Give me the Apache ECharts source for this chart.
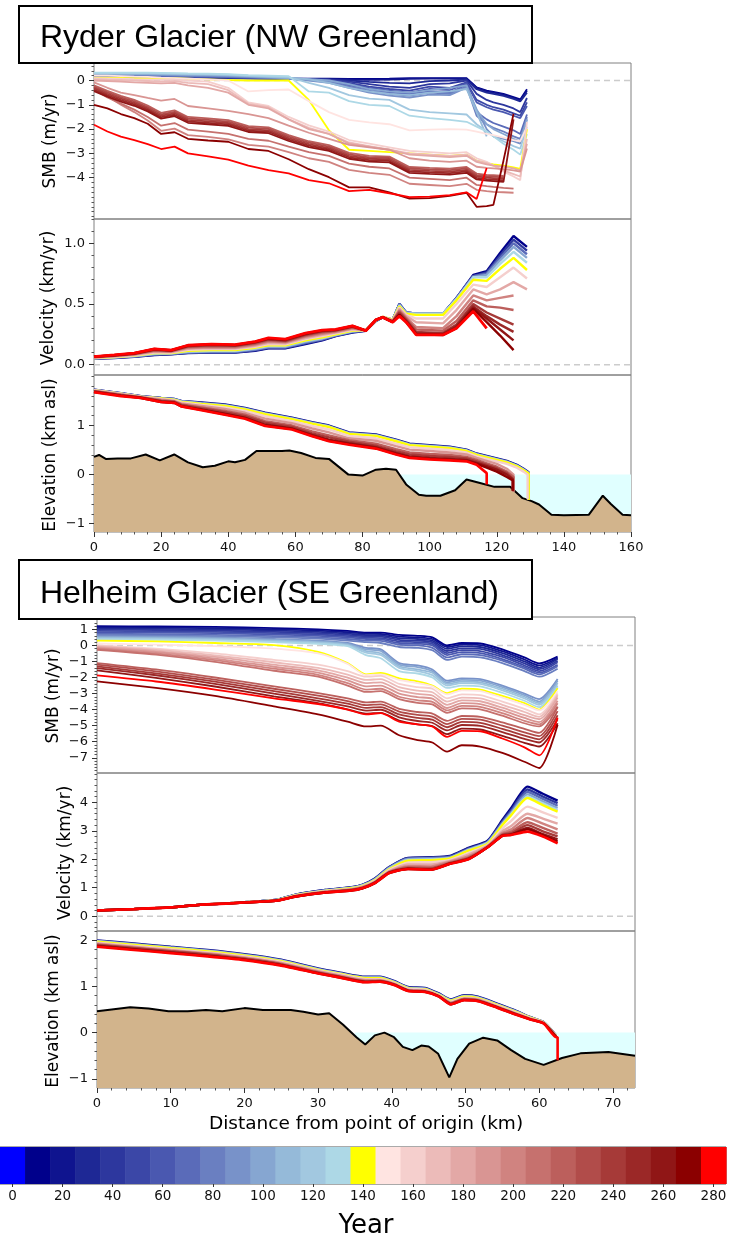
<!DOCTYPE html>
<html><head><meta charset="utf-8">
<script src="https://cdn.jsdelivr.net/npm/echarts@6.0.0/dist/echarts.min.js"></script>
<style>html,body{margin:0;padding:0;background:#fff}#c{width:733px;height:1242px}</style>
</head><body><div id="c"></div>
<script>
// ---------- colour bar ----------
const CB_YEARS = [0,10,20,30,40,50,60,70,80,90,100,110,120,130,140,150,160,170,180,190,200,210,220,230,240,250,260,270,280];
const CB_COLORS = ['#0000ff','#00008b','#0f148f','#1e2895','#2d379e','#3b47a7','#4a58b0','#5a6bb9','#6a7fc1','#7892c9','#86a6d1','#95bad9','#a2c8e0','#add8e6','#ffff00','#ffe4e1','#f5cfcd','#ecbbb9','#e3a8a6','#d99593','#d08380','#c6716e','#bc5f5c','#b14c4a','#a63a38','#9b2827','#901616','#8b0000','#ff0000'];
const CB_TICKS = [0,20,40,60,80,100,120,140,160,180,200,220,240,260,280];

// ---------- Ryder: SMB ----------
const RY_SMB_X = [0,4,8,12,16,20,24,28,34,40,46,52,58,64,70,76,82,88,94,100,106,111,114,117,119,122,125,127,129];
const RY_SMB_YEARS = [10,20,30,40,50,60,70,80,90,100,110,120,130,140,150,160,170,180,190,200,210,220,230,240,250,260,270,280];
const RY_SMB = [
[0.12,0.12,0.12,0.12,0.12,0.12,0.12,0.12,0.11,0.1,0.09,0.08,0.08,0.08,0.08,0.07,0.07,0.08,0.1,0.1,0.1,0.1,-0.28,-0.42,-0.47,-0.55,-0.68,-0.78,-0.36],
[0.13,0.13,0.13,0.13,0.13,0.13,0.13,0.12,0.11,0.1,0.09,0.08,0.07,0.07,0.06,0.04,0.03,0.04,0.07,0.08,0.08,0.08,-0.3,-0.45,-0.5,-0.58,-0.72,-0.82,-0.42],
[0.14,0.14,0.14,0.14,0.14,0.14,0.14,0.13,0.12,0.11,0.1,0.09,0.08,0.07,0.05,0.0,-0.06,-0.1,-0.12,-0.03,0.0,0.04,-0.36,-0.5,-0.55,-0.63,-0.76,-0.86,-0.5],
[0.15,0.15,0.15,0.15,0.15,0.15,0.15,0.14,0.13,0.12,0.1,0.09,0.08,0.06,0.04,-0.05,-0.15,-0.25,-0.3,-0.15,-0.12,0.0,-0.55,-0.8,-0.9,-1.0,-1.15,-1.3,-0.72],
[0.17,0.17,0.17,0.17,0.17,0.17,0.16,0.15,0.14,0.13,0.11,0.1,0.08,0.05,0.02,-0.1,-0.25,-0.35,-0.42,-0.25,-0.3,-0.08,-0.8,-1.0,-1.1,-1.2,-1.35,-1.45,-0.9],
[0.18,0.18,0.18,0.18,0.18,0.18,0.17,0.16,0.15,0.14,0.12,0.1,0.08,0.04,0.0,-0.15,-0.3,-0.42,-0.5,-0.35,-0.4,-0.12,-0.9,-1.1,-1.2,-1.3,-1.45,-1.55,-1.05],
[0.2,0.2,0.2,0.2,0.2,0.2,0.19,0.18,0.17,0.15,0.13,0.11,0.08,0.03,-0.02,-0.2,-0.35,-0.5,-0.55,-0.45,-0.5,-0.18,-1.3,-1.6,-1.75,-1.9,-2.05,-2.2,-1.4],
[0.22,0.22,0.22,0.22,0.22,0.21,0.2,0.19,0.18,0.16,0.14,0.11,0.08,0.02,-0.05,-0.25,-0.42,-0.55,-0.62,-0.5,-0.55,-0.25,-1.45,-1.8,-1.95,-2.1,-2.3,-2.4,-1.5],
[0.24,0.24,0.24,0.24,0.24,0.23,0.22,0.21,0.2,0.18,0.15,0.12,0.08,0.0,-0.1,-0.3,-0.5,-0.62,-0.7,-0.58,-0.6,-0.3,-1.2,-2.0,-2.3,-2.4,-2.5,-2.6,-1.6],
[0.26,0.26,0.26,0.26,0.26,0.25,0.24,0.23,0.22,0.2,0.17,0.14,0.1,0.06,0.0,-0.15,-0.35,-0.45,-0.5,-0.4,-0.3,-0.2,-1.2,-1.8,-2.0,-2.2,-2.4,-2.5,-1.6],
[0.28,0.28,0.28,0.28,0.28,0.27,0.26,0.25,0.24,0.22,0.18,0.15,0.12,0.05,-0.1,-0.3,-0.45,-0.55,-0.6,-0.5,-0.45,-0.35,-1.3,-2.3,null,null,null,null,null],
[0.3,0.3,0.3,0.3,0.3,0.29,0.28,0.27,0.26,0.24,0.2,0.17,0.14,-0.1,-0.3,-0.6,-0.75,-0.8,-1.2,-1.3,-1.35,-1.4,-1.8,-2.1,-2.3,-2.5,-2.7,-2.8,-1.9],
[0.32,0.32,0.32,0.32,0.32,0.31,0.3,0.29,0.28,0.26,0.22,0.2,0.18,-0.45,-0.5,-0.85,-1.0,-1.05,-1.45,-1.55,-1.62,-1.7,-1.9,-2.1,-2.3,-2.6,-2.85,-3.05,-2.2],
[0.12,0.12,0.11,0.1,0.1,0.1,0.1,0.08,0.05,0.02,0.0,0.0,0.0,-0.8,-2.05,-2.85,-2.9,-2.95,-3.0,-3.05,-3.1,-3.05,-3.3,-3.4,-3.45,-3.5,-3.58,-3.64,-2.0],
[0.2,0.2,0.18,0.16,0.15,0.12,0.1,0.08,0.05,0.0,-0.45,-0.4,-0.37,-0.85,-1.3,-1.62,-1.72,-1.8,-2.05,-2.02,-2.0,-2.02,-2.1,-2.2,-2.25,-2.35,-2.45,-2.5,-1.9],
[0.1,0.09,0.08,0.06,0.05,0.03,0.04,0.0,-0.05,-0.3,-0.9,-1.05,-1.5,-1.85,-2.1,-2.45,-2.6,-2.75,-2.9,-2.95,-3.0,-2.95,-3.2,-3.35,-3.5,-3.75,-3.95,-4.1,-1.7],
[0.05,0.03,0.02,0.0,-0.02,-0.05,-0.03,-0.1,-0.15,-0.4,-0.96,-1.1,-1.6,-1.95,-2.2,-2.55,-2.7,-2.85,-3.0,-3.05,-3.1,-3.05,-3.3,-3.4,-3.5,-3.7,-3.85,-3.95,-2.4],
[0.0,-0.02,-0.05,-0.08,-0.1,-0.12,-0.1,-0.2,-0.3,-0.5,-1.0,-1.15,-1.6,-2.0,-2.2,-2.6,-2.72,-2.85,-3.05,-3.1,-3.15,-3.1,-3.35,-3.45,-3.5,-3.55,-3.62,-3.7,-2.6],
[-0.08,-0.3,-0.5,-0.6,-0.72,-0.83,-0.76,-1.05,-1.15,-1.25,-1.38,-1.55,-1.86,-2.15,-2.4,-2.65,-2.75,-2.85,-3.2,-3.3,-3.35,-3.3,-3.55,-3.6,-3.62,-3.65,-3.7,-3.75,-2.8],
[-0.28,-0.65,-1.0,-1.3,-1.65,-2.07,-1.98,-2.25,-2.32,-2.42,-2.65,-2.72,-2.95,-3.2,-3.35,-3.68,-3.8,-3.88,-4.25,-4.3,-4.35,-4.25,-4.5,-4.55,-4.58,-4.6,-4.62,null,null],
[-0.38,-0.7,-0.95,-1.2,-1.5,-1.86,-1.75,-2.02,-2.1,-2.2,-2.4,-2.48,-2.72,-2.95,-3.1,-3.42,-3.55,-3.62,-4.0,-4.05,-4.1,-4.0,-4.3,-4.35,-4.38,-4.42,-4.45,null,null],
[-0.2,-0.43,-0.63,-0.8,-1.03,-1.33,-1.23,-1.5,-1.56,-1.63,-1.88,-1.93,-2.25,-2.5,-2.66,-2.98,-3.1,-3.13,-3.56,-3.6,-3.63,-3.56,-3.83,-3.88,-3.9,-3.93,null,null,null],
[-0.26,-0.49,-0.69,-0.86,-1.09,-1.39,-1.29,-1.56,-1.62,-1.69,-1.94,-1.99,-2.31,-2.56,-2.72,-3.04,-3.16,-3.19,-3.62,-3.66,-3.69,-3.62,-3.89,-3.94,-3.96,-3.99,null,null,null],
[-0.32,-0.55,-0.75,-0.92,-1.15,-1.45,-1.35,-1.62,-1.68,-1.75,-2.0,-2.05,-2.37,-2.62,-2.78,-3.1,-3.22,-3.25,-3.68,-3.72,-3.75,-3.68,-3.95,-4.0,-4.02,-4.05,null,null,null],
[-0.38,-0.61,-0.81,-0.98,-1.21,-1.51,-1.41,-1.68,-1.74,-1.81,-2.06,-2.11,-2.43,-2.68,-2.84,-3.16,-3.28,-3.31,-3.74,-3.78,-3.81,-3.74,-4.01,-4.06,-4.08,-4.11,null,null,null],
[-0.44,-0.67,-0.87,-1.04,-1.27,-1.57,-1.47,-1.74,-1.8,-1.87,-2.12,-2.17,-2.49,-2.74,-2.9,-3.22,-3.34,-3.37,-3.8,-3.84,-3.87,-3.8,-4.07,-4.12,-4.14,-4.17,-1.6,null,null],
[-1.0,-1.15,-1.38,-1.55,-1.78,-2.2,-2.13,-2.4,-2.47,-2.52,-2.82,-2.9,-3.24,-3.65,-3.98,-4.4,-4.4,-4.6,-4.86,-4.84,-4.75,-4.62,-5.2,-5.17,-5.12,-3.3,-1.37,null,null],
[-1.82,-2.1,-2.31,-2.45,-2.62,-2.82,-2.72,-3.0,-3.12,-3.26,-3.5,-3.69,-3.82,-4.1,-4.23,-4.55,-4.5,-4.64,-4.8,-4.78,-4.72,-4.6,-4.88,-3.6,null,null,null,null,null]
];

// ---------- Ryder: velocity ----------
const RY_VEL_X = [0,6,12,18,23,28,35,42,48,52,57,63,68,72,77,81,84,86,89,91,93,96,104,108,113,117,121,125,129];
const RY_VEL_YEARS = [10,40,70,100,130,140,160,180,200,220,240,250,260,270,280];
const RY_VEL = [
[0.05,0.055,0.065,0.08,0.085,0.095,0.1,0.1,0.115,0.135,0.135,0.17,0.2,0.235,0.265,0.28,0.36,0.39,0.37,0.5,0.43,0.42,0.42,0.55,0.74,0.77,0.92,1.06,0.97],
[0.051,0.056,0.066,0.082,0.087,0.097,0.102,0.102,0.118,0.138,0.138,0.175,0.204,0.238,0.268,0.281,0.361,0.39,0.37,0.5,0.43,0.42,0.42,0.55,0.73,0.76,0.9,1.03,0.94],
[0.052,0.058,0.068,0.085,0.09,0.1,0.105,0.105,0.122,0.142,0.142,0.18,0.208,0.24,0.27,0.282,0.362,0.391,0.37,0.5,0.43,0.42,0.42,0.55,0.73,0.75,0.88,1.0,0.91],
[0.053,0.06,0.07,0.088,0.092,0.105,0.11,0.11,0.128,0.148,0.148,0.188,0.214,0.244,0.274,0.283,0.363,0.392,0.37,0.49,0.43,0.42,0.42,0.54,0.72,0.74,0.86,0.97,0.88],
[0.054,0.061,0.073,0.092,0.094,0.11,0.115,0.115,0.134,0.155,0.155,0.196,0.22,0.248,0.277,0.284,0.364,0.393,0.37,0.49,0.42,0.42,0.42,0.54,0.72,0.72,0.83,0.93,0.84],
[0.055,0.062,0.075,0.095,0.095,0.115,0.12,0.12,0.14,0.16,0.16,0.2,0.225,0.25,0.28,0.285,0.365,0.395,0.37,0.48,0.42,0.41,0.41,0.53,0.7,0.69,0.79,0.88,0.78],
[0.057,0.065,0.078,0.1,0.1,0.122,0.128,0.128,0.148,0.17,0.168,0.21,0.235,0.258,0.288,0.284,0.366,0.395,0.365,0.47,0.41,0.38,0.38,0.5,0.66,0.64,0.72,0.8,0.71],
[0.059,0.068,0.082,0.106,0.104,0.13,0.136,0.135,0.156,0.18,0.176,0.22,0.245,0.264,0.294,0.283,0.367,0.394,0.362,0.46,0.4,0.35,0.34,0.45,0.62,0.58,0.62,0.68,0.62],
[0.061,0.071,0.085,0.112,0.108,0.138,0.144,0.142,0.164,0.19,0.184,0.23,0.255,0.27,0.3,0.282,0.368,0.393,0.36,0.45,0.39,0.31,0.3,0.4,0.57,0.53,0.55,0.57,null],
[0.062,0.073,0.088,0.117,0.111,0.145,0.152,0.149,0.172,0.198,0.19,0.238,0.264,0.276,0.306,0.282,0.368,0.392,0.357,0.44,0.38,0.29,0.28,0.36,0.53,0.48,0.47,0.45,null],
[0.064,0.076,0.09,0.122,0.115,0.151,0.16,0.155,0.18,0.206,0.197,0.246,0.272,0.282,0.311,0.281,0.369,0.391,0.355,0.43,0.37,0.27,0.26,0.33,0.5,0.43,0.38,0.33,null],
[0.065,0.077,0.092,0.125,0.117,0.154,0.164,0.158,0.184,0.21,0.201,0.25,0.277,0.285,0.314,0.281,0.369,0.391,0.353,0.42,0.36,0.26,0.255,0.32,0.48,0.4,0.33,0.27,null],
[0.066,0.078,0.093,0.127,0.118,0.157,0.167,0.161,0.187,0.214,0.205,0.254,0.281,0.287,0.317,0.28,0.37,0.39,0.352,0.41,0.36,0.255,0.25,0.31,0.47,0.38,0.29,0.2,null],
[0.066,0.079,0.094,0.129,0.119,0.159,0.169,0.163,0.189,0.217,0.208,0.257,0.283,0.289,0.319,0.28,0.37,0.39,0.351,0.41,0.35,0.25,0.245,0.3,0.46,0.35,0.24,0.12,null],
[0.067,0.08,0.095,0.13,0.12,0.16,0.17,0.165,0.19,0.22,0.21,0.26,0.285,0.29,0.32,0.28,0.37,0.39,0.35,0.4,0.35,0.245,0.245,0.3,0.44,0.3,null,null,null]
];

// ---------- Ryder: elevation ----------
const RY_ELE_X = [0,8,14,20,24,26,32,39,45,51,59,65,70,76,84,90,94,100,106,111,114,117,120,123,126,128];
const RY_ELE_YEARS = [10,70,130,140,160,190,220,240,260,270,280];
const RY_ELE = [
[1.73,1.66,1.6,1.56,1.54,1.5,1.47,1.43,1.36,1.26,1.16,1.07,1.0,0.86,0.82,0.71,0.63,0.6,0.57,0.51,0.43,0.38,0.33,0.28,0.2,0.12],
[1.73,1.66,1.6,1.56,1.54,1.5,1.46,1.42,1.35,1.25,1.15,1.06,0.99,0.85,0.81,0.7,0.62,0.59,0.56,0.5,0.42,0.37,0.32,0.27,0.19,0.11],
[1.72,1.65,1.59,1.55,1.53,1.49,1.45,1.41,1.34,1.24,1.14,1.05,0.98,0.84,0.8,0.69,0.61,0.58,0.55,0.49,0.41,0.36,0.31,0.26,0.18,0.1],
[1.72,1.65,1.59,1.55,1.52,1.48,1.44,1.4,1.33,1.23,1.13,1.04,0.97,0.83,0.79,0.68,0.6,0.57,0.54,0.48,0.4,0.35,0.3,0.25,0.17,0.09],
[1.72,1.65,1.59,1.54,1.51,1.47,1.42,1.37,1.3,1.19,1.09,0.99,0.92,0.79,0.74,0.63,0.56,0.53,0.5,0.45,0.37,0.32,0.27,0.22,0.14,0.06],
[1.71,1.64,1.58,1.53,1.5,1.45,1.4,1.34,1.26,1.14,1.05,0.94,0.86,0.74,0.69,0.58,0.51,0.48,0.45,0.41,0.34,0.28,0.22,0.12,null,null],
[1.7,1.63,1.58,1.51,1.49,1.43,1.37,1.3,1.22,1.09,1.0,0.88,0.8,0.7,0.63,0.52,0.45,0.42,0.4,0.36,0.3,0.23,0.16,0.06,null,null],
[1.7,1.62,1.57,1.5,1.48,1.42,1.35,1.27,1.19,1.06,0.97,0.84,0.76,0.67,0.59,0.48,0.41,0.38,0.36,0.33,0.27,0.2,0.13,0.03,null,null],
[1.69,1.61,1.57,1.49,1.47,1.4,1.33,1.24,1.16,1.02,0.94,0.81,0.71,0.64,0.56,0.44,0.37,0.34,0.32,0.3,0.24,0.17,0.1,0.0,null,null],
[1.68,1.61,1.56,1.48,1.46,1.39,1.32,1.23,1.15,1.0,0.93,0.79,0.69,0.62,0.54,0.42,0.35,0.32,0.3,0.28,0.22,0.14,0.06,-0.05,null,null],
[1.68,1.6,1.56,1.48,1.46,1.39,1.31,1.22,1.14,0.99,0.92,0.78,0.68,0.61,0.53,0.41,0.34,0.31,0.29,0.27,0.2,0.03,null,null,null,null]
];
const RY_FRONT_X = [129.5,129.5,129.5,129.5,129.2,125,125,124.8,124.8,124.8,117];
const RY_FRONT_TOP = [0.05,0.04,0.03,0.02,0.0,0.0,-0.05,-0.08,-0.1,-0.12,0.03];
const RY_FRONT_BASE = [-0.52,-0.52,-0.52,-0.52,-0.5,-0.35,-0.35,-0.33,-0.33,-0.33,-0.2];
const RY_BED_X = [0,1.5,3.5,7,11,15.4,19.6,23.9,28,32.4,36,40,42,45,48.4,56,58.2,61.7,66,70,75.8,80,84,87,90,93,96.8,99,103.2,107.6,111,115,119.3,124,127.7,130.4,132.6,136.3,140,147.4,151.6,154,157.5,160];
const RY_BED_Z = [0.36,0.4,0.32,0.33,0.33,0.41,0.29,0.41,0.25,0.15,0.18,0.27,0.25,0.3,0.48,0.48,0.49,0.44,0.34,0.32,0.0,-0.02,0.1,0.12,0.1,-0.2,-0.41,-0.43,-0.43,-0.32,-0.1,-0.17,-0.25,-0.25,-0.48,-0.54,-0.61,-0.82,-0.83,-0.82,-0.43,-0.6,-0.82,-0.83];
const RY_SEA_X = [91.5,160];

// ---------- Helheim: SMB ----------
const HE_SMB_X = [0,8,16,24,30,34,36.5,38.5,41,43.5,45.5,47.5,49.5,52,55,58,60,62.5];
const HE_SMB_YEARS = [10,20,30,40,50,60,70,80,90,100,110,120,130,140,150,160,170,180,190,200,210,220,230,240,250,260,270,280];
const HE_SMB = [
[1.2,1.18,1.15,1.08,1.0,0.9,0.8,0.8,0.65,0.6,0.5,0.0,0.15,0.12,-0.25,-0.75,-1.12,-0.7],
[1.12,1.1,1.07,1.0,0.92,0.82,0.72,0.71,0.55,0.5,0.4,-0.1,0.05,0.02,-0.36,-0.88,-1.25,-0.78],
[1.05,1.03,1.0,0.92,0.84,0.74,0.64,0.63,0.45,0.4,0.3,-0.22,-0.06,-0.1,-0.48,-1.0,-1.38,-0.85],
[0.98,0.96,0.92,0.84,0.76,0.66,0.56,0.55,0.35,0.3,0.2,-0.35,-0.18,-0.22,-0.6,-1.12,-1.48,-0.95],
[0.9,0.88,0.84,0.76,0.68,0.58,0.48,0.46,0.25,0.2,0.1,-0.48,-0.3,-0.35,-0.72,-1.25,-1.6,-1.05],
[0.82,0.8,0.76,0.68,0.6,0.5,0.4,0.38,0.15,0.1,0.0,-0.6,-0.42,-0.48,-0.85,-1.35,-1.7,-1.2],
[0.72,0.7,0.66,0.58,0.5,0.4,0.3,0.28,0.05,0.0,-0.15,-0.75,-0.55,-0.6,-0.95,-1.45,-1.8,-1.3],
[0.65,0.62,0.58,0.5,0.42,0.3,0.2,0.15,-0.1,-0.15,-0.3,-0.9,-0.7,-0.75,-1.1,-1.6,-1.95,-1.45],
[0.58,0.55,0.5,0.4,0.3,0.15,-0.15,-0.25,-1.1,-1.25,-1.5,-2.2,-2.05,-2.1,-2.5,-3.0,-3.35,-2.1],
[0.52,0.5,0.45,0.35,0.25,0.1,-0.25,-0.35,-1.2,-1.35,-1.6,-2.3,-2.15,-2.2,-2.6,-3.1,-3.5,-2.2],
[0.48,0.45,0.4,0.3,0.2,0.05,-0.35,-0.5,-1.3,-1.5,-1.7,-2.4,-2.25,-2.3,-2.7,-3.2,-3.6,-2.35],
[0.42,0.4,0.35,0.25,0.15,0.0,-0.45,-0.6,-1.4,-1.6,-1.85,-2.5,-2.35,-2.4,-2.8,-3.3,-3.7,-2.5],
[0.38,0.35,0.3,0.2,0.1,-0.05,-0.6,-0.8,-1.6,-1.75,-2.0,-2.65,-2.5,-2.55,-2.95,-3.45,-3.85,-2.6],
[0.3,0.25,0.15,0.02,-0.4,-1.1,-1.8,-1.72,-2.05,-2.24,-2.5,-2.97,-2.7,-2.75,-3.15,-3.6,-4.0,-2.66],
[0.12,0.05,-0.05,-0.2,-0.5,-1.15,-1.85,-1.8,-2.15,-2.35,-2.55,-3.05,-2.8,-2.85,-3.25,-3.7,-4.05,-2.85],
[0.0,-0.2,-0.5,-0.9,-1.2,-1.6,-1.95,-1.9,-2.4,-2.6,-2.7,-3.3,-3.05,-3.1,-3.5,-3.95,-4.3,-3.0],
[-0.05,-0.28,-0.62,-1.05,-1.4,-1.82,-2.15,-2.1,-2.6,-2.82,-2.92,-3.5,-3.25,-3.3,-3.7,-4.15,-4.45,-3.1],
[-0.1,-0.35,-0.72,-1.2,-1.55,-2.0,-2.35,-2.3,-2.8,-3.02,-3.12,-3.7,-3.42,-3.48,-3.88,-4.35,-4.6,-3.25],
[-0.15,-0.42,-0.82,-1.33,-1.7,-2.18,-2.55,-2.5,-3.0,-3.22,-3.32,-3.9,-3.6,-3.66,-4.05,-4.52,-4.78,-3.45],
[-0.2,-0.5,-0.92,-1.45,-1.83,-2.35,-2.75,-2.7,-3.2,-3.42,-3.52,-4.05,-3.77,-3.83,-4.22,-4.7,-4.92,-3.6],
[-0.27,-0.58,-1.02,-1.58,-1.95,-2.5,-2.9,-2.85,-3.35,-3.58,-3.68,-4.2,-3.92,-3.98,-4.38,-4.85,-5.05,-3.8],
[-1.1,-1.5,-2.0,-2.55,-2.97,-3.3,-3.55,-3.5,-3.95,-4.15,-4.25,-4.7,-4.4,-4.45,-4.8,-5.2,-5.45,-3.85],
[-1.2,-1.62,-2.13,-2.7,-3.13,-3.47,-3.72,-3.67,-4.12,-4.33,-4.44,-4.9,-4.58,-4.63,-5.0,-5.42,-5.65,-4.1],
[-1.31,-1.74,-2.26,-2.85,-3.3,-3.63,-3.89,-3.84,-4.3,-4.52,-4.63,-5.1,-4.77,-4.83,-5.2,-5.62,-5.85,-4.35],
[-1.41,-1.86,-2.39,-3.0,-3.45,-3.8,-4.06,-4.01,-4.48,-4.71,-4.82,-5.3,-4.96,-5.02,-5.4,-5.83,-6.05,-4.6],
[-1.56,-2.02,-2.56,-3.18,-3.6,-3.98,-4.25,-4.2,-4.68,-4.92,-5.03,-5.53,-5.18,-5.24,-5.63,-6.07,-6.3,-4.85],
[-2.24,-2.65,-3.15,-3.8,-4.3,-4.75,-5.05,-5.0,-5.6,-5.9,-6.05,-6.62,-6.22,-6.3,-6.7,-7.25,-7.64,-4.94],
[-1.87,-2.25,-2.75,-3.3,-3.65,-4.0,-4.3,-4.22,-4.75,-4.92,-5.05,-5.7,-5.33,-5.35,-5.8,-6.35,-6.85,-4.5]
];

// ---------- Helheim: velocity ----------
const HE_VEL_X = [0,5,10,14,18,22,24.5,27,31,34.5,36,37.7,39.6,42.2,45.3,47.9,50.4,53,55,56.2,58.4,60.5,62.5];
const HE_VEL_YEARS = [10,40,70,100,130,140,160,180,200,220,240,260,270,280];
const HE_VEL = [
[0.2,0.25,0.31,0.4,0.46,0.53,0.58,0.76,0.92,1.02,1.1,1.32,1.72,2.05,2.07,2.12,2.4,2.65,3.38,3.8,4.55,4.3,4.06],
[0.2,0.25,0.31,0.4,0.46,0.53,0.58,0.76,0.92,1.01,1.1,1.31,1.71,2.04,2.06,2.1,2.38,2.63,3.33,3.73,4.45,4.2,3.97],
[0.2,0.25,0.31,0.4,0.46,0.53,0.58,0.75,0.91,1.0,1.09,1.3,1.7,2.02,2.04,2.08,2.36,2.61,3.29,3.67,4.36,4.12,3.88],
[0.2,0.25,0.31,0.4,0.46,0.53,0.57,0.75,0.9,0.99,1.08,1.29,1.68,2.0,2.02,2.06,2.34,2.59,3.25,3.62,4.28,4.03,3.8],
[0.2,0.25,0.31,0.4,0.46,0.52,0.57,0.74,0.9,0.99,1.07,1.27,1.66,1.97,1.99,2.04,2.32,2.57,3.22,3.58,4.2,3.96,3.73],
[0.2,0.25,0.31,0.4,0.46,0.52,0.57,0.74,0.89,0.98,1.06,1.26,1.64,1.95,1.97,2.03,2.3,2.55,3.2,3.55,4.15,3.9,3.67],
[0.2,0.25,0.31,0.4,0.46,0.52,0.56,0.73,0.88,0.96,1.04,1.24,1.61,1.88,1.9,1.98,2.22,2.5,3.08,3.35,3.85,3.65,3.45],
[0.2,0.25,0.31,0.4,0.45,0.52,0.56,0.72,0.87,0.95,1.03,1.22,1.58,1.82,1.82,1.94,2.16,2.48,2.98,3.17,3.6,3.43,3.25],
[0.2,0.25,0.31,0.4,0.45,0.51,0.56,0.71,0.86,0.94,1.02,1.2,1.56,1.76,1.75,1.91,2.1,2.46,2.92,3.05,3.45,3.25,3.05],
[0.2,0.25,0.31,0.4,0.45,0.51,0.55,0.7,0.85,0.93,1.0,1.19,1.54,1.72,1.7,1.88,2.06,2.44,2.88,2.96,3.3,3.1,2.9],
[0.2,0.25,0.31,0.4,0.45,0.51,0.55,0.7,0.84,0.92,0.99,1.18,1.53,1.69,1.67,1.86,2.03,2.43,2.85,2.91,3.2,2.98,2.8],
[0.2,0.25,0.31,0.4,0.45,0.51,0.55,0.69,0.83,0.91,0.98,1.17,1.52,1.67,1.64,1.85,2.01,2.42,2.83,2.87,3.1,2.88,2.7],
[0.2,0.25,0.31,0.4,0.45,0.51,0.55,0.69,0.83,0.9,0.98,1.16,1.51,1.66,1.63,1.84,2.0,2.42,2.82,2.86,3.05,2.84,2.62],
[0.2,0.25,0.31,0.4,0.45,0.51,0.55,0.69,0.83,0.9,0.98,1.16,1.51,1.66,1.63,1.84,2.0,2.42,2.82,2.85,2.97,2.8,2.56]
];

// ---------- Helheim: elevation ----------
const HE_ELE_X = [0,5,10,15,20,25,30,33,36.4,38.4,40.3,42.2,44.5,46.4,48,49.8,51.7,54.3,56.8,58.7,60.6,62.3];
const HE_ELE_YEARS = [10,70,130,140,160,190,220,240,260,270,280];
const HE_ELE = [
[2.0,1.93,1.86,1.79,1.7,1.58,1.39,1.3,1.21,1.21,1.12,0.99,0.97,0.85,0.72,0.81,0.78,0.63,0.48,0.34,0.23,-0.06],
[1.99,1.92,1.85,1.78,1.69,1.57,1.38,1.29,1.2,1.2,1.11,0.98,0.96,0.84,0.71,0.8,0.77,0.62,0.47,0.34,0.23,-0.06],
[1.98,1.91,1.84,1.77,1.68,1.56,1.37,1.28,1.19,1.19,1.1,0.97,0.95,0.83,0.7,0.79,0.76,0.61,0.46,0.33,0.22,-0.07],
[1.97,1.9,1.83,1.76,1.67,1.55,1.36,1.27,1.18,1.18,1.09,0.96,0.94,0.82,0.69,0.78,0.75,0.6,0.45,0.33,0.22,-0.07],
[1.95,1.88,1.81,1.74,1.65,1.53,1.35,1.26,1.16,1.16,1.08,0.95,0.93,0.81,0.67,0.76,0.73,0.59,0.44,0.32,0.22,-0.07],
[1.93,1.86,1.79,1.72,1.63,1.51,1.33,1.24,1.14,1.14,1.06,0.93,0.91,0.8,0.65,0.74,0.72,0.57,0.42,0.31,0.21,-0.08],
[1.91,1.84,1.77,1.7,1.61,1.49,1.31,1.22,1.12,1.12,1.05,0.92,0.9,0.79,0.64,0.73,0.7,0.56,0.41,0.3,0.21,-0.08],
[1.9,1.83,1.76,1.69,1.6,1.48,1.3,1.21,1.11,1.12,1.04,0.91,0.89,0.79,0.63,0.72,0.7,0.55,0.4,0.3,0.2,-0.09],
[1.88,1.81,1.74,1.67,1.58,1.46,1.29,1.2,1.1,1.11,1.04,0.91,0.89,0.78,0.62,0.71,0.69,0.55,0.4,0.29,0.2,-0.09],
[1.87,1.8,1.73,1.66,1.58,1.46,1.28,1.19,1.09,1.1,1.03,0.9,0.88,0.78,0.61,0.7,0.68,0.54,0.39,0.29,0.2,-0.1],
[1.86,1.79,1.72,1.65,1.57,1.45,1.28,1.19,1.09,1.1,1.03,0.9,0.88,0.78,0.61,0.7,0.68,0.54,0.39,0.29,0.2,-0.1]
];
const HE_FRONT_X = [null,null,null,null,null,null,null,null,null,null,62.5];
const HE_FRONT_TOP = [null,null,null,null,null,null,null,null,null,null,-0.1];
const HE_FRONT_BASE = [null,null,null,null,null,null,null,null,null,null,-0.6];
const HE_BED_X = [0,2,4.5,7,9.7,12.3,14.8,17,20,22.5,26.3,28,30,31.5,33.4,35.2,36.4,37.7,39,40.3,41.5,42.8,44,45,46.3,47.8,48.9,50.5,52.4,54.3,56.2,58.1,60.6,63.1,65.6,69.4,73];
const HE_BED_Z = [0.46,0.5,0.55,0.52,0.46,0.46,0.49,0.46,0.53,0.49,0.49,0.45,0.39,0.42,0.17,-0.1,-0.26,-0.06,0.0,-0.1,-0.31,-0.38,-0.28,-0.3,-0.46,-0.97,-0.57,-0.24,-0.11,-0.17,-0.38,-0.57,-0.7,-0.55,-0.45,-0.42,-0.5];
const HE_SEA_X = [35,73];

// ---------- layout ----------
const FONT = '"DejaVu Sans", "Liberation Sans", sans-serif';
const GRIDS = [
  {left:94, top:63, width:537, height:156},
  {left:94, top:219, width:537, height:156},
  {left:94, top:375, width:537, height:157},
  {left:97, top:617, width:538, height:156},
  {left:97, top:773, width:538, height:158},
  {left:97, top:931, width:538, height:157},
  {left:-7, top:1147, width:733, height:37}
];
const X_RANGE = [[0,160],[0,160],[0,160],[0,73],[0,73],[0,73]];
const Y_RANGE = [[-5.7,0.72],[-0.085,1.2],[-1.17,2.03],[-7.95,1.77],[-0.52,5.03],[-1.2,2.2]];
const Y_MAJ = [[-4,-3,-2,-1,0],[0,0.5,1.0],[-1,0,1],[-7,-6,-5,-4,-3,-2,-1,0,1],[0,1,2,3,4],[-1,0,1,2]];
const Y_MINSTEP = [0.2,0.1,0.2,0.2,0.2,0.2];
const RY_XTICKS = [0,20,40,60,80,100,120,140,160];
const HE_XTICKS = [0,10,20,30,40,50,60,70];

function minors(lo, hi, step, majors){
  const out=[]; let v=Math.ceil(lo/step)*step;
  for(; v<=hi+1e-9; v+=step){ const r=Math.round(v*1000)/1000; if(!majors.some(m=>Math.abs(m-r)<1e-6)) out.push(r); }
  return out;
}
function fmt(v){ const s = Math.abs(v).toString(); return (v<0?'\u2212':'')+s; }
function colorOf(y){ return CB_COLORS[CB_YEARS.indexOf(y)]; }

const xAxes=[], yAxes=[], series=[];
for(let g=0; g<6; g++){
  const bottom = (g===2||g===5);
  const ticks = g===2?RY_XTICKS:HE_XTICKS;
  xAxes.push({type:'value', gridIndex:g, position:'bottom', min:X_RANGE[g][0], max:X_RANGE[g][1],
    axisLine:{show:false, onZero:false}, splitLine:{show:false},
    axisTick:{show:bottom, customValues:ticks, length:5, lineStyle:{color:'#333'}},
    axisLabel:{show:bottom, customValues:ticks, margin:9, fontFamily:FONT, fontSize:13, color:'#111'}});
  yAxes.push({type:'value', gridIndex:g, position:'left', min:Y_RANGE[g][0], max:Y_RANGE[g][1],
    axisLine:{show:false, onZero:false}, splitLine:{show:false},
    axisTick:{show:true, customValues:Y_MAJ[g], length:5, lineStyle:{color:'#333'}},
    axisLabel:{customValues:Y_MAJ[g], margin:9, fontFamily:FONT, fontSize:13, color:'#111',
      formatter: g===1 ? (v=>Number(v).toFixed(1)) : (v=>fmt(Number(v)))}});
}
// colour bar axes (index 6)
xAxes.push({type:'value', gridIndex:6, position:'bottom', min:-5, max:285, axisLine:{show:false, onZero:false}, splitLine:{show:false},
  axisTick:{show:true, customValues:CB_TICKS, length:3, lineStyle:{color:'#333'}},
  axisLabel:{customValues:CB_TICKS, margin:5, fontFamily:FONT, fontSize:13.5, color:'#111'}});
yAxes.push({type:'value', gridIndex:6, min:0, max:1, show:false});
// minor tick axes
xAxes.push({type:'value', gridIndex:2, position:'bottom', min:0, max:160, axisLine:{show:false, onZero:false}, splitLine:{show:false}, axisLabel:{show:false},
  axisTick:{show:true, customValues:minors(0,160,4,RY_XTICKS), length:2.5, lineStyle:{color:'#555'}}});
xAxes.push({type:'value', gridIndex:5, position:'bottom', min:0, max:73, axisLine:{show:false, onZero:false}, splitLine:{show:false}, axisLabel:{show:false},
  axisTick:{show:true, customValues:minors(0,73,2,HE_XTICKS), length:2.5, lineStyle:{color:'#555'}}});
for(let g=0; g<6; g++){
  yAxes.push({type:'value', gridIndex:g, position:'left', offset:0, min:Y_RANGE[g][0], max:Y_RANGE[g][1], axisLine:{show:false, onZero:false}, splitLine:{show:false}, axisLabel:{show:false},
    axisTick:{show:true, customValues:minors(Y_RANGE[g][0],Y_RANGE[g][1],Y_MINSTEP[g],Y_MAJ[g]), length:2.5, lineStyle:{color:'#555'}}});
}

function pts(xs, vals){ const d=[]; xs.forEach((x,i)=>{ if(vals[i]!==null && vals[i]!==undefined) d.push([x, vals[i]]); }); return d; }
function zeroLine(g){
  series.push({type:'line', xAxisIndex:g, yAxisIndex:g, data:[[X_RANGE[g][0],0],[X_RANGE[g][1],0]], symbol:'none', silent:true,
    lineStyle:{color:'#cccccc', width:1.5, type:[6,4]}, z:1, animation:false});
}
function addLines(g, xs, years, table, width, opt){
  opt = opt || {};
  years.forEach((yr,k)=>{
    const d = pts(xs, table[k]);
    if(opt.fx && opt.fx[k]!=null){ d.push([opt.fx[k], opt.ft[k]]); d.push([opt.fx[k], opt.fb[k]]); }
    series.push({type:'line', xAxisIndex:g, yAxisIndex:g, data:d, symbol:'none', silent:true, smooth: opt.smooth||false,
      lineStyle:{color:colorOf(yr), width: (opt.lastWidth && k===years.length-1) ? opt.lastWidth : width}, z:3, animation:false});
  });
}
function addBed(g, bx, bz, seaX){
  series.push({type:'line', xAxisIndex:g, yAxisIndex:g, data:[[seaX[0],0],[seaX[1],0]], symbol:'none', silent:true,
    lineStyle:{width:0, opacity:0}, areaStyle:{color:'#e0ffff', opacity:1, origin:'start'}, z:1, animation:false});
  series.push({type:'line', xAxisIndex:g, yAxisIndex:g, data:pts(bx,bz), symbol:'none', silent:true,
    lineStyle:{color:'#000', width:2}, areaStyle:{color:'#d2b48c', opacity:1, origin:'start'}, z:2, animation:false});
}

// Ryder
zeroLine(0);
addLines(0, RY_SMB_X, RY_SMB_YEARS, RY_SMB, 1.8);
zeroLine(1);
addLines(1, RY_VEL_X, RY_VEL_YEARS, RY_VEL, 2.4, {lastWidth:2.8});
addBed(2, RY_BED_X, RY_BED_Z, RY_SEA_X);
addLines(2, RY_ELE_X, RY_ELE_YEARS, RY_ELE, 2.4, {fx:RY_FRONT_X, ft:RY_FRONT_TOP, fb:RY_FRONT_BASE, lastWidth:2.6});
// Helheim
zeroLine(3);
addLines(3, HE_SMB_X, HE_SMB_YEARS, HE_SMB, 1.8, {smooth:0.25});
zeroLine(4);
addLines(4, HE_VEL_X, HE_VEL_YEARS, HE_VEL, 2.4, {smooth:0.2, lastWidth:2.6});
addBed(5, HE_BED_X, HE_BED_Z, HE_SEA_X);
addLines(5, HE_ELE_X, HE_ELE_YEARS, HE_ELE, 2.2, {smooth:0.2, fx:HE_FRONT_X, ft:HE_FRONT_TOP, fb:HE_FRONT_BASE, lastWidth:2.6});

// colour bar cells
series.push({type:'custom', xAxisIndex:6, yAxisIndex:6, silent:true, animation:false,
  data: CB_YEARS.map((y,i)=>[y-5, y+5, i]),
  renderItem:(params, api)=>{
    const p0 = api.coord([api.value(0),1]); const p1 = api.coord([api.value(1),0]);
    return {type:'rect', shape:{x:p0[0], y:p0[1], width:p1[0]-p0[0]+0.6, height:p1[1]-p0[1]},
      style:{fill: CB_COLORS[api.value(2)]}};
  }});

const grids = GRIDS.map((g,i)=>Object.assign({show:true, borderColor: i===6?'#555':'#808080', borderWidth:1, backgroundColor:'transparent', containLabel:false}, g));

function vtext(txt, x, y){
  return {type:'text', x:x, y:y, rotation:Math.PI/2, z:50,
    style:{text:txt, fontFamily:FONT, fontSize:17, fill:'#000', align:'center', verticalAlign:'middle'}};
}
const graphic = [
  {type:'rect', shape:{x:19, y:6, width:513, height:57}, style:{fill:'#fff', stroke:'#000', lineWidth:2}, z:100},
  {type:'text', x:40, y:38, z:101, style:{text:'Ryder Glacier (NW Greenland)', fontFamily:'"Liberation Sans", Arial, sans-serif', fontSize:32, fill:'#000', verticalAlign:'middle'}},
  {type:'rect', shape:{x:19, y:560, width:513, height:59}, style:{fill:'#fff', stroke:'#000', lineWidth:2}, z:100},
  {type:'text', x:40, y:594, z:101, style:{text:'Helheim Glacier (SE Greenland)', fontFamily:'"Liberation Sans", Arial, sans-serif', fontSize:32, fill:'#000', verticalAlign:'middle'}},
  vtext('SMB (m/yr)', 51, 141),
  vtext('Velocity (km/yr)', 49, 298),
  vtext('Elevation (km asl)', 51, 455),
  vtext('SMB (m/yr)', 54, 696),
  vtext('Velocity (km/yr)', 66, 853),
  vtext('Elevation (km asl)', 54, 1011),
  {type:'text', x:366, y:1124, z:50, style:{text:'Distance from point of origin (km)', fontFamily:FONT, fontSize:18.5, fill:'#000', align:'center', verticalAlign:'middle'}},
  {type:'text', x:366, y:1226, z:50, style:{text:'Year', fontFamily:FONT, fontSize:26, fill:'#000', align:'center', verticalAlign:'middle'}}
];

const chart = echarts.init(document.getElementById('c'), null, {renderer:'canvas', width:733, height:1242});
chart.setOption({
  backgroundColor:'#fff', animation:false,
  grid: grids, xAxis: xAxes, yAxis: yAxes, series: series, graphic: graphic
});
</script></body></html>
